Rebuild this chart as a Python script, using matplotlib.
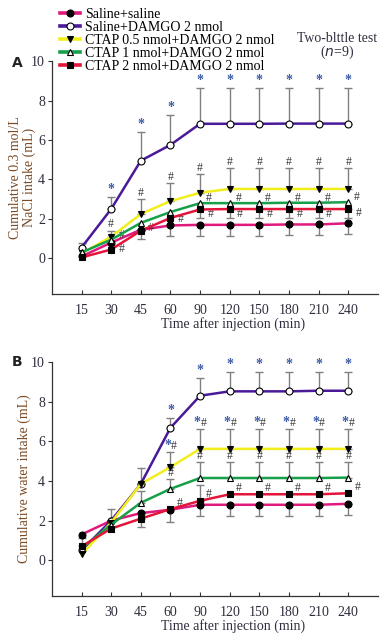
import numpy as np
import matplotlib
matplotlib.use('Agg')
import matplotlib.pyplot as plt

plt.rcParams['font.family'] = ['Liberation Serif', 'DejaVu Serif']

times = ['15', '30', '45', '60', '90', '120', '150', '180', '210', '240']
labels = ['Saline+saline', 'Saline+DAMGO 2 nmol', 'CTAP 0.5 nmol+DAMGO 2 nmol',
          'CTAP 1 nmol+DAMGO 2 nmol', 'CTAP 2 nmol+DAMGO 2 nmol']

# panel A: cumulative 0.3 mol/L NaCl intake (mL)
sal_sal_a = [0.1, 0.8, 1.45, 1.67, 1.7, 1.7, 1.7, 1.72, 1.72, 1.78]
sal_sal_a_lo = [0, 0, 0.45, 0.55, 0.55, 0.55, 0.55, 0.55, 0.55, 0.55]
sal_dam_a = [0.55, 2.5, 4.95, 5.75, 6.82, 6.82, 6.82, 6.83, 6.83, 6.83]
sal_dam_a_up = [0.25, 0.6, 1.45, 1.5, 1.8, 1.8, 1.8, 1.8, 1.8, 1.8]
ctap05_a = [0.25, 1.1, 2.25, 2.9, 3.33, 3.52, 3.52, 3.52, 3.52, 3.52]
ctap05_a_up = [0, 0.3, 0.75, 0.9, 0.95, 1.05, 1.05, 1.05, 1.05, 1.05]
ctap1_a = [0.3, 0.95, 1.8, 2.35, 2.8, 2.8, 2.8, 2.82, 2.82, 2.85]
ctap2_a = [0.05, 0.45, 1.4, 2.05, 2.48, 2.5, 2.5, 2.5, 2.5, 2.5]
ctap2_a_lo = [0, 0, 0, 0, 0.42, 0.45, 0.45, 0.45, 0.45, 0.45]

# panel B: cumulative water intake (mL)
sal_sal_b = [1.3, 2.0, 2.38, 2.55, 2.8, 2.8, 2.8, 2.8, 2.8, 2.85]
sal_sal_b_lo = [0, 0, 0, 0, 0.58, 0.58, 0.58, 0.58, 0.58, 0.58]
sal_dam_b = [0.5, 2.0, 3.85, 6.68, 8.3, 8.52, 8.52, 8.52, 8.55, 8.55]
sal_dam_b_up = [0, 0.6, 0.8, 0.5, 0.87, 0.98, 0.98, 0.98, 0.95, 0.95]
ctap05_b = [0.3, 1.9, 3.85, 4.7, 5.62, 5.62, 5.62, 5.62, 5.62, 5.62]
ctap05_b_up = [0, 0, 0, 0.75, 1.0, 1.0, 1.0, 1.0, 1.0, 1.0]
ctap1_b = [0.6, 1.8, 2.9, 3.6, 4.15, 4.15, 4.15, 4.15, 4.15, 4.17]
ctap1_b_up = [0, 0, 0.6, 0.5, 0.8, 0.8, 0.8, 0.8, 0.8, 0.78]
ctap2_b = [0.7, 1.6, 2.1, 2.58, 3.0, 3.33, 3.33, 3.33, 3.33, 3.38]
ctap2_b_up = [0.4, 0, 0, 0, 0.8, 0, 0, 0, 0, 0]
ctap2_b_lo = [0, 0, 0.4, 0.63, 0, 0, 0, 0, 0, 0]

# significance marks beside the markers: (time index, y value)
stars_a = [1, 2, 3, 4, 5, 6, 7, 8, 9]
hash_a_extra = [(1.25, 1.2), (1.25, 0.5), (2.25, 1.55), (3.25, 2.0),
                (4.2, 3.05), (5.2, 3.05), (6.2, 3.05), (7.2, 3.05), (8.2, 3.05), (9.2, 3.1),
                (4.25, 2.25), (5.25, 2.25), (6.25, 2.25), (7.25, 2.25), (8.25, 2.25), (9.25, 2.3)]
stars_b = [3, 4, 5, 6, 7, 8, 9]
hash_b_extra = [(3.2, 2.9), (4.2, 3.35), (5.2, 3.63), (6.2, 3.63), (7.2, 3.63),
                (8.2, 3.63), (9.22, 3.72)]

colors = ['#e0197d', '#4a1a98', '#f2ee1c', '#17a04a', '#e3153a']
markers = ['o', 'o', 'v', '^', 's']
faces = ['black', 'white', 'black', 'white', 'black']
err_c = '#808080'
star_c = '#3e5ca6'
tick_c = '#2e2e3e'
lab_c = '#7a4a25'
hash_fs = 8.5

x = np.arange(len(times))

fig = plt.figure(figsize=(3.9, 6.39), dpi=100)
axA = fig.add_axes([0.133, 0.540, 0.836, 0.3645])
axB = fig.add_axes([0.133, 0.0673, 0.836, 0.3662])


def err(ax, y, lo, up):
    lo = np.zeros(len(y)) if lo is None else np.array(lo)
    up = np.zeros(len(y)) if up is None else np.array(up)
    m = (lo > 0) | (up > 0)
    ax.errorbar(x[m], np.array(y)[m], yerr=[lo[m], up[m]], fmt='none',
                ecolor=err_c, elinewidth=1, capsize=3, capthick=1, zorder=1)


def lines(ax, series):
    hs = []
    for i, y in enumerate(series):
        h, = ax.plot(x, y, color=colors[i], lw=1.8, marker=markers[i], ms=5,
                     mfc=faces[i], mec='black', mew=0.8, zorder=3 + i)
        hs.append(h)
    return hs


def style(ax, ylab):
    ax.set_xlim(-1, 10)
    ax.set_ylim(-1.8, 10)
    ax.set_xticks(x)
    ax.set_xticklabels(times)
    ax.set_yticks([0, 2, 4, 6, 8, 10])
    ax.spines['top'].set_visible(False)
    ax.spines['right'].set_visible(False)
    for s in ['left', 'bottom']:
        ax.spines[s].set_color('#333333')
        ax.spines[s].set_linewidth(0.9)
    ax.tick_params(axis='x', direction='in', length=3, pad=7, labelsize=10, colors='#333333',
                   labelcolor=tick_c)
    ax.tick_params(axis='y', direction='out', length=3, pad=2, labelsize=10, colors='#333333',
                   labelcolor=tick_c)
    ax.set_xlabel('Time after injection (min)', fontsize=10, color=tick_c)
    ax.xaxis.set_label_coords(0.555, -0.1)
    ax.set_ylabel(ylab, fontsize=10, color=lab_c, linespacing=1.05)


# panel A
err(axA, sal_sal_a, sal_sal_a_lo, None)
err(axA, sal_dam_a, None, sal_dam_a_up)
err(axA, ctap05_a, None, ctap05_a_up)
err(axA, ctap2_a, ctap2_a_lo, None)
handles = lines(axA, [sal_sal_a, sal_dam_a, ctap05_a, ctap1_a, ctap2_a])
for i in stars_a:
    axA.text(x[i], sal_dam_a[i] + sal_dam_a_up[i] + 0.05, '*', ha='center', va='bottom',
             fontsize=10, color=star_c, fontweight='bold')
for i in range(1, 10):
    axA.text(x[i], ctap05_a[i] + ctap05_a_up[i] + 0.02, '#', ha='center', va='bottom',
             fontsize=hash_fs, color='#333333')
for xi, yi in hash_a_extra:
    axA.text(xi, yi, '#', ha='left', va='center', fontsize=hash_fs, color='#333333')
style(axA, 'Cumulative 0.3 mol/L\nNaCl intake (mL)')
axA.yaxis.set_label_coords(-0.05, 0.5)

# panel B
err(axB, sal_sal_b, sal_sal_b_lo, None)
err(axB, sal_dam_b, None, sal_dam_b_up)
err(axB, ctap05_b, None, ctap05_b_up)
err(axB, ctap1_b, None, ctap1_b_up)
err(axB, ctap2_b, ctap2_b_lo, ctap2_b_up)
lines(axB, [sal_sal_b, sal_dam_b, ctap05_b, ctap1_b, ctap2_b])
for i in stars_b:
    axB.text(x[i], sal_dam_b[i] + sal_dam_b_up[i] + 0.05, '*', ha='center', va='bottom',
             fontsize=10, color=star_c, fontweight='bold')
for i in range(3, 10):
    top = ctap05_b[i] + ctap05_b_up[i] + 0.02
    axB.text(x[i] + 0.02, top, '*', ha='right', va='bottom', fontsize=10, color=star_c,
             fontweight='bold')
    axB.text(x[i] + 0.02, top, '#', ha='left', va='bottom', fontsize=hash_fs, color='#333333')
    axB.text(x[i], ctap1_b[i] + ctap1_b_up[i] + 0.02, '#', ha='center', va='bottom',
             fontsize=hash_fs, color='#333333')
for xi, yi in hash_b_extra:
    axB.text(xi, yi, '#', ha='left', va='center', fontsize=hash_fs, color='#333333')
style(axB, 'Cumulative water intake (mL)')
axB.yaxis.set_label_coords(-0.065, 0.5)

leg = fig.legend(handles, labels, loc='upper left', bbox_to_anchor=(0.155, 0.988),
                 frameon=False, fontsize=10, handlelength=1.4, handletextpad=0.35,
                 labelspacing=0.0, borderpad=0, borderaxespad=0)
for h in leg.legend_handles:
    h.set_linewidth(2.6)

fig.text(0.865, 0.94, 'Two-blttle test', ha='center', va='center', fontsize=10, color=tick_c)
fig.text(0.865, 0.918, '($\\it{n}$=9)', ha='center', va='center', fontsize=10, color=tick_c)
fig.text(0.045, 0.902, 'A', fontsize=10, fontweight='bold', family='DejaVu Sans',
         ha='center', va='center', color='#222222')
fig.text(0.045, 0.434, 'B', fontsize=10, fontweight='bold', family='DejaVu Sans',
         ha='center', va='center', color='#222222')

fig.savefig('out.png', dpi=100)
